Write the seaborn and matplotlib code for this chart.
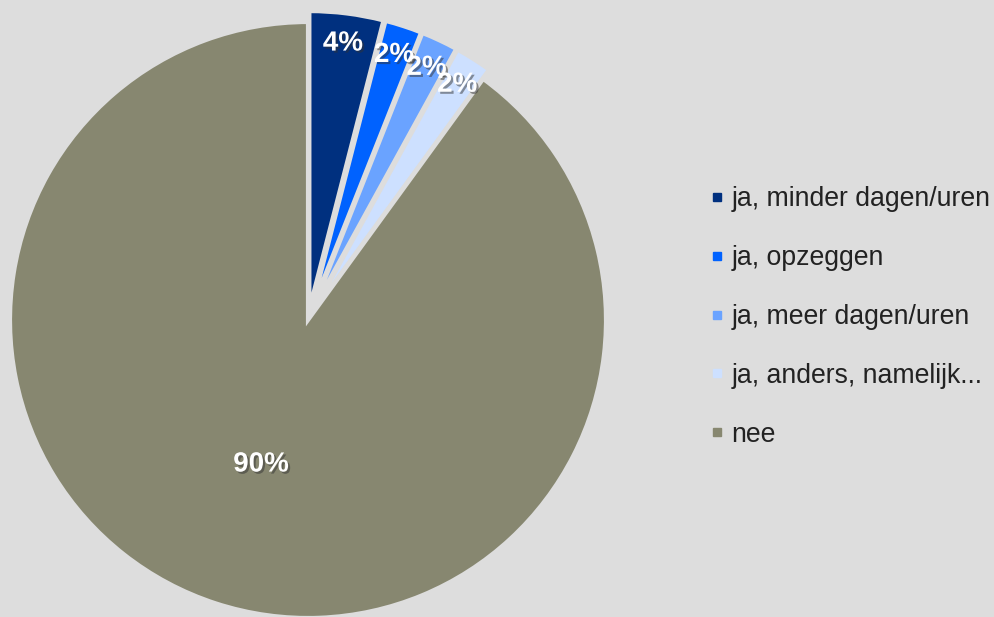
import numpy as np
import matplotlib
matplotlib.use("Agg")
import matplotlib.pyplot as plt
import matplotlib.patheffects as pe
from matplotlib.lines import Line2D
import seaborn as sns

categories = ["ja, minder dagen/uren", "ja, opzeggen", "ja, meer dagen/uren",
              "ja, anders, namelijk...", "nee"]
values = [4, 2, 2, 2, 90]
labels = ["4%", "2%", "2%", "2%", "90%"]
colors = ["#00307f", "#0062ff", "#6aa3ff", "#cde0ff", "#878770"]

BG = "#dddddd"
sns.set_theme(style="white")
plt.rcParams['font.family'] = ['Liberation Sans', 'DejaVu Sans']

fig = plt.figure(figsize=(9.95, 6.17), dpi=100, facecolor=BG)
ax = fig.add_axes([0, 0, 1, 1])
ax.set_facecolor(BG)

cx, cy, R = 308, 297, 298
explode = [11, 11, 11, 11, 0]
wedges, _ = ax.pie(values, colors=colors, startangle=90, counterclock=False,
                   center=(cx, cy), radius=R, explode=explode,
                   wedgeprops=dict(edgecolor=BG, linewidth=3))
ax.set_aspect("auto")
ax.set_xlim(0, 995)
ax.set_ylim(0, 617)
ax.axis("off")

shadow = [pe.withSimplePatchShadow(offset=(1.5, -1.5), shadow_rgbFace="#333333", alpha=0.5)]
for w, lab, v in zip(wedges, labels, values):
    mid = np.deg2rad((w.theta1 + w.theta2) / 2)
    frac = 0.935 if v < 50 else 0.51
    x = cx + frac * R * np.cos(mid)
    y = cy + frac * R * np.sin(mid)
    ax.text(x, y, lab, ha="center", va="center", color="white",
            fontsize=20, fontweight="bold", path_effects=shadow)

handles = [Line2D([0], [0], marker="s", linestyle="", markersize=6,
                  markerfacecolor=c, markeredgecolor=c) for c in colors]
leg = ax.legend(handles, categories, loc="upper left", bbox_to_anchor=(710 / 995, 1 - 186 / 617),
                frameon=False, fontsize=19.2, labelspacing=1.235, handlelength=0.5,
                handletextpad=0.3, borderaxespad=0, borderpad=0)
for t in leg.get_texts():
    t.set_color("#222222")

fig.savefig("out.png", dpi=100, facecolor=BG)
